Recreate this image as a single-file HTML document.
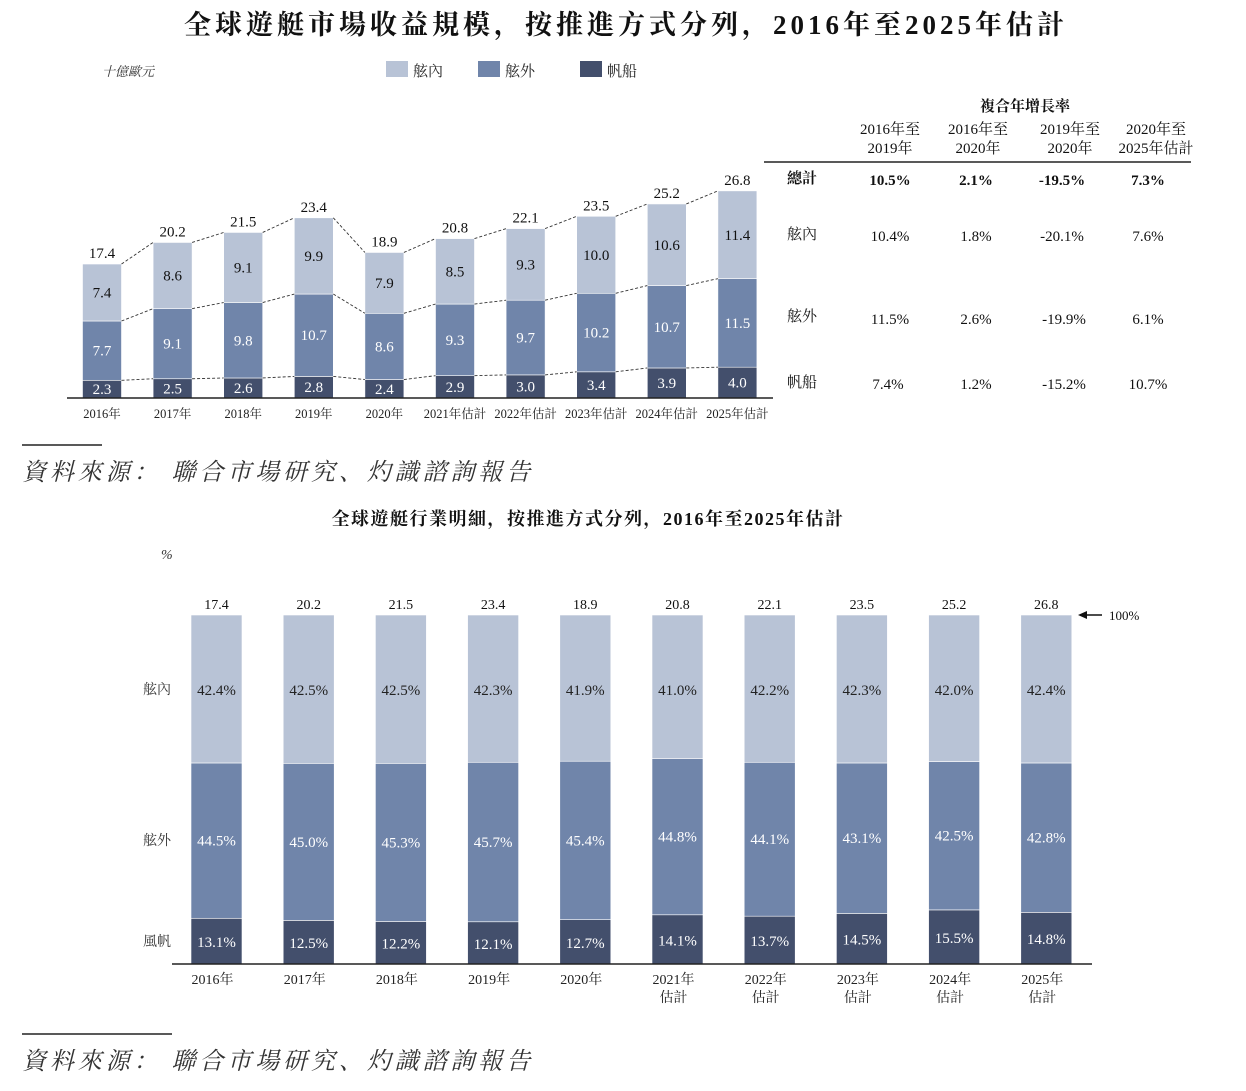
<!DOCTYPE html>
<html><head><meta charset="utf-8"><style>
html,body{margin:0;padding:0;background:#fff;}
svg text{font-family:"Liberation Serif","Noto Serif CJK SC",serif;}
</style></head><body>
<svg id="s" width="1246" height="1086" xmlns="http://www.w3.org/2000/svg">
<text x="626" y="34" text-anchor="middle" font-size="27" font-weight="bold" letter-spacing="4" fill="#111">全球遊艇市場收益規模，按推進方式分列，2016年至2025年估計</text>
<text x="102" y="76" font-size="13" font-style="italic" fill="#333">十億歐元</text>
<rect x="386" y="61" width="22" height="16" fill="#b8c3d6"/><text x="413" y="76" font-size="15" fill="#222">舷內</text>
<rect x="478" y="61" width="22" height="16" fill="#7085aa"/><text x="505" y="76" font-size="15" fill="#222">舷外</text>
<rect x="580" y="61" width="22" height="16" fill="#434f6c"/><text x="607" y="76" font-size="15" fill="#222">帆船</text>
<g id="topg"></g>
<g font-size="15" fill="#111">
<text x="1025" y="111" text-anchor="middle" font-weight="bold">複合年增長率</text>
<text x="890" y="134" text-anchor="middle">2016年至</text><text x="890" y="153" text-anchor="middle">2019年</text>
<text x="978" y="134" text-anchor="middle">2016年至</text><text x="978" y="153" text-anchor="middle">2020年</text>
<text x="1070" y="134" text-anchor="middle">2019年至</text><text x="1070" y="153" text-anchor="middle">2020年</text>
<text x="1156" y="134" text-anchor="middle">2020年至</text><text x="1156" y="153" text-anchor="middle">2025年估計</text>
<line x1="764" y1="162" x2="1191" y2="162" stroke="#222" stroke-width="1.5"/>
<g font-weight="bold"><text x="787" y="183">總計</text><text x="890" y="185" text-anchor="middle">10.5%</text><text x="976" y="185" text-anchor="middle">2.1%</text><text x="1062" y="185" text-anchor="middle">-19.5%</text><text x="1148" y="185" text-anchor="middle">7.3%</text></g>
<text x="787" y="239">舷內</text><text x="890" y="241" text-anchor="middle">10.4%</text><text x="976" y="241" text-anchor="middle">1.8%</text><text x="1062" y="241" text-anchor="middle">-20.1%</text><text x="1148" y="241" text-anchor="middle">7.6%</text>
<text x="787" y="321">舷外</text><text x="890" y="324" text-anchor="middle">11.5%</text><text x="976" y="324" text-anchor="middle">2.6%</text><text x="1064" y="324" text-anchor="middle">-19.9%</text><text x="1148" y="324" text-anchor="middle">6.1%</text>
<text x="787" y="387">帆船</text><text x="888" y="389" text-anchor="middle">7.4%</text><text x="976" y="389" text-anchor="middle">1.2%</text><text x="1064" y="389" text-anchor="middle">-15.2%</text><text x="1148" y="389" text-anchor="middle">10.7%</text>
</g>
<line x1="22" y1="445" x2="102" y2="445" stroke="#222" stroke-width="1.5"/>
<text x="22" y="480" font-size="24" font-style="italic" letter-spacing="3.9" fill="#333">資料來源：  聯合市場研究、灼識諮詢報告</text>
<text x="588" y="525" text-anchor="middle" font-size="18" font-weight="bold" letter-spacing="1.5" fill="#111">全球遊艇行業明細，按推進方式分列，2016年至2025年估計</text>
<text x="161" y="559" font-size="14" font-style="italic" fill="#333">%</text>
<g font-size="14" fill="#333"><text x="143" y="694">舷內</text><text x="143" y="845">舷外</text><text x="143" y="946">風帆</text></g>
<g id="botg"></g>
<line x1="1080" y1="615" x2="1102" y2="615" stroke="#111" stroke-width="1.5"/><polygon points="1078,615 1087,611 1087,619" fill="#111"/>
<text x="1109" y="620" font-size="13" fill="#111">100%</text>
<line x1="22" y1="1034" x2="172" y2="1034" stroke="#222" stroke-width="1.5"/>
<text x="22" y="1069" font-size="24" font-style="italic" letter-spacing="3.9" fill="#333">資料來源：  聯合市場研究、灼識諮詢報告</text>
</svg>
<script>
(function(){
var NS="http://www.w3.org/2000/svg";
function el(p,t,a,txt){var e=document.createElementNS(NS,t);for(var k in a)e.setAttribute(k,a[k]);if(txt!=null)e.textContent=txt;p.appendChild(e);return e;}
var C=["#434f6c","#7085aa","#b8c3d6"];
var topG=document.getElementById("topg");
var d=[[2.3,7.7,7.4,17.4],[2.5,9.1,8.6,20.2],[2.6,9.8,9.1,21.5],[2.8,10.7,9.9,23.4],[2.4,8.6,7.9,18.9],[2.9,9.3,8.5,20.8],[3.0,9.7,9.3,22.1],[3.4,10.2,10.0,23.5],[3.9,10.7,10.6,25.2],[4.0,11.5,11.4,26.8]];
var lab=["2016年","2017年","2018年","2019年","2020年","2021年估計","2022年估計","2023年估計","2024年估計","2025年估計"];
var B=398,S=7.7,W=39,tops=[];
d.forEach(function(v,i){var cx=102+i*70.6,x=cx-W/2,y=B,tt=[];
for(var j=0;j<3;j++){var h=v[j]*S;y-=h;el(topG,"rect",{x:x,y:y,width:W,height:h,fill:C[j],stroke:"#fff","stroke-width":0.6});
el(topG,"text",{x:cx,y:y+h/2+5,"text-anchor":"middle","font-size":15,fill:j==2?"#111":"#fff"},v[j].toFixed(1));tt.push(y);}
el(topG,"text",{x:cx,y:y-6,"text-anchor":"middle","font-size":15,fill:"#111"},v[3].toFixed(1));
el(topG,"text",{x:cx,y:418,"text-anchor":"middle","font-size":12.5,fill:"#222"},lab[i]);
tops.push({x:x,tt:tt});});
for(var i=0;i<9;i++)for(var j=0;j<3;j++)el(topG,"line",{x1:tops[i].x+W,y1:tops[i].tt[j],x2:tops[i+1].x,y2:tops[i+1].tt[j],stroke:"#333","stroke-width":0.9,"stroke-dasharray":"3,2"});
el(topG,"line",{x1:67,y1:B,x2:773,y2:B,stroke:"#222","stroke-width":1.5});
var botG=document.getElementById("botg");
var p=[[13.1,44.5,42.4],[12.5,45.0,42.5],[12.2,45.3,42.5],[12.1,45.7,42.3],[12.7,45.4,41.9],[14.1,44.8,41.0],[13.7,44.1,42.2],[14.5,43.1,42.3],[15.5,42.5,42.0],[14.8,42.8,42.4]];
var bl=["2016年","2017年","2018年","2019年","2020年","2021年|估計","2022年|估計","2023年|估計","2024年|估計","2025年|估計"];
p.forEach(function(v,i){var cx=216.5+i*92.2,x=cx-25.5,BB=964,H=349,y=BB;
for(var j=0;j<3;j++){var h=(j==2?(y-615):v[j]/100*H);y-=h;
el(botG,"rect",{x:x,y:y,width:51,height:h,fill:C[j],stroke:"#fff","stroke-width":0.6});
el(botG,"text",{x:cx,y:(j==0?y+h/2+6:j==1?y+h/2+5:695),"text-anchor":"middle","font-size":15,fill:j==2?"#222":"#fff"},v[j].toFixed(1)+"%");}
el(botG,"text",{x:cx,y:609,"text-anchor":"middle","font-size":14,fill:"#111"},d[i][3].toFixed(1));
var ls=bl[i].split("|");el(botG,"text",{x:cx-4,y:984,"text-anchor":"middle","font-size":14,fill:"#222"},ls[0]);
if(ls[1])el(botG,"text",{x:cx-4,y:1002,"text-anchor":"middle","font-size":14,fill:"#222"},ls[1]);});
el(botG,"line",{x1:172,y1:964,x2:1092,y2:964,stroke:"#222","stroke-width":1.5});
})();
</script>
</body></html>
